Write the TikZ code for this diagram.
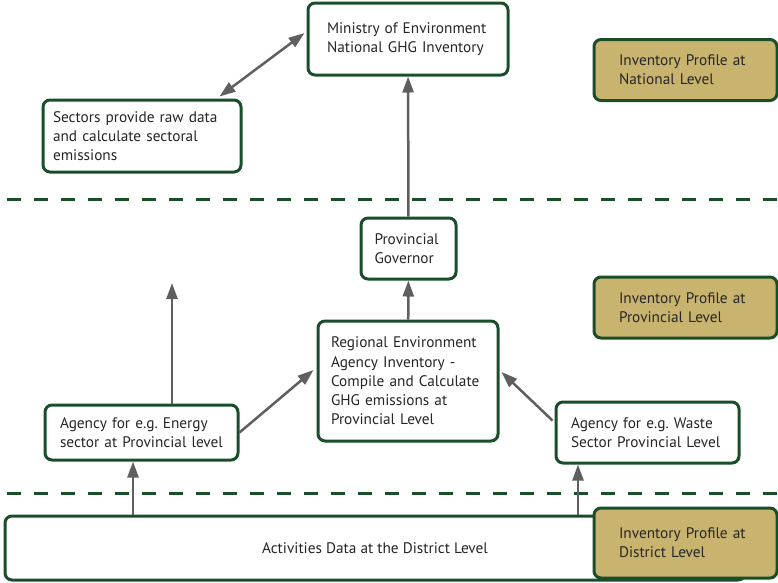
\documentclass[tikz,border=0pt]{standalone}
\usepackage{fontspec}
\setmainfont{PT Sans}
\usetikzlibrary{arrows.meta}
\definecolor{framegreen}{HTML}{1A4D2A}
\definecolor{profiletan}{HTML}{C8B46E}
\definecolor{flowgray}{HTML}{5F5F5F}
\hyphenpenalty=10000
\exhyphenpenalty=10000
\tikzset{
  stagebox/.style={
    % The shape:
    rectangle,rounded corners=7pt,
    % The border:
    line width=3pt,
    draw=framegreen,
    % The filling:
    fill=white,
    % The text:
    inner xsep=1pt,inner ysep=1pt,
    align=left,text=black!85,
    font=\fontsize{15.3}{19.2}\selectfont},
  profilebox/.style={
    stagebox,
    fill=profiletan,
    minimum width=183pt,minimum height=61pt,text width=133pt},
  levelline/.style={
    line width=3pt,draw=framegreen,
    dash pattern=on 14pt off 13pt},
  flow/.style={
    line width=2.5pt,draw=flowgray,
    -{Triangle[length=16pt,width=11pt]}}
}

\begin{document}
\begin{tikzpicture}[x=1pt,y=-1pt,
                    flow both/.style={flow,{Triangle[length=16pt,width=11pt]}-{Triangle[length=16pt,width=11pt]}}]
  \useasboundingbox (0,0) rectangle (778,582);

  % level separators
  \draw[levelline] (7,199) -- (778,199);
  \draw[levelline] (7,493) -- (778,493);

  % national level
  \node (ministry) [stagebox,minimum width=200pt,minimum height=72pt,text width=162pt]
    at (408,39) {Ministry of Environment\\National GHG Inventory};
  \node (sectors) [stagebox,minimum width=198pt,minimum height=72pt,text width=178pt]
    at (142,136) {Sectors provide raw data\\and calculate sectoral\\emissions};
  \node (natprofile) [profilebox] at (685.5,70) {Inventory Profile at\\National Level};

  % provincial level
  \node (governor) [stagebox,minimum width=95pt,minimum height=61pt,text width=68pt]
    at (408.5,248.5) {Provincial\\Governor};
  \node (regional) [stagebox,minimum width=180pt,minimum height=120pt,text width=154pt]
    at (408,381) {Regional Environment\\Agency Inventory -\\Compile and Calculate\\GHG emissions at\\Provincial Level};
  \node (energy) [stagebox,minimum width=193pt,minimum height=55pt,text width=163pt]
    at (141.5,432.5) {Agency for e.g.\ Energy\\sector at Provincial level};
  \node (waste) [stagebox,minimum width=183pt,minimum height=61pt,text width=153pt]
    at (647.5,432.5) {Agency for e.g.\ Waste\\Sector Provincial Level};
  \node (provprofile) [profilebox] at (685.5,307.5) {Inventory Profile at\\Provincial Level};

  % district level
  \node (activities) [stagebox,minimum width=740pt,minimum height=64pt,align=center]
    at (375,548) {Activities Data at the District Level};
  \node (distprofile) [profilebox,minimum height=70pt] at (685.5,543) {Inventory Profile at\\District Level};

  \coordinate (energy up) at (172,283);

  % flows
  \draw[flow both] ([xshift=-23pt,yshift=2pt]sectors.north east) -- ([xshift=-2pt,yshift=6pt]ministry.west);
  \draw[flow] (governor) -- (ministry);
  \draw[flow] (regional) -- (governor);
  \draw[flow] (energy.north -| energy up) -- (energy up);
  \draw[flow] (energy.east) -- ([xshift=-3pt,yshift=11pt]regional.west);
  \draw[flow] ([xshift=-2pt,yshift=12pt]waste.west) -- ([xshift=2pt,yshift=9pt]regional.east);
  \draw[flow] (activities.north -| 133,0) -- (energy.south -| 133,0);
  \draw[flow] (activities.north -| 578,0) -- (waste.south -| 578,0);
\end{tikzpicture}
\end{document}
